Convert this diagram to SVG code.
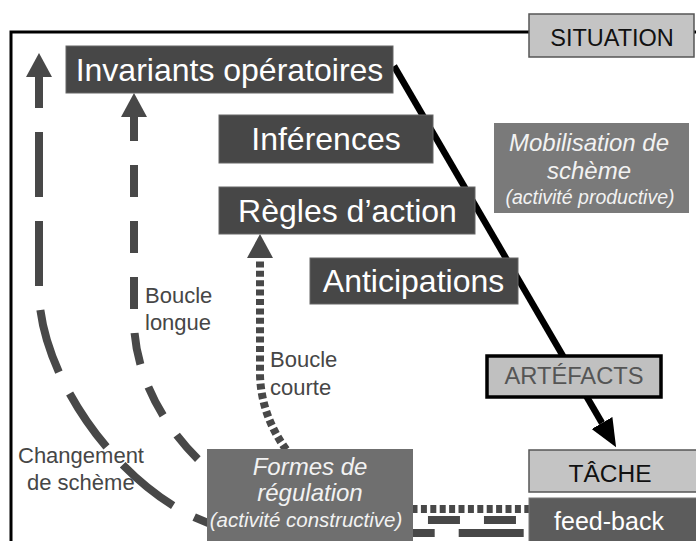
<svg xmlns="http://www.w3.org/2000/svg" width="696" height="541" viewBox="0 0 696 541">
  <defs>
    <style>
      text { font-family: "Liberation Sans", Arial, sans-serif; }
      .dark { fill: #474747; stroke: #666666; stroke-width: 1; }
      .big { font-size: 32px; fill: #ffffff; text-anchor: middle; }
      .light { fill: #c4c4c4; stroke: #555555; stroke-width: 1.5; }
      .lbl { font-size: 22px; fill: #464646; }
      .ital { font-style: italic; fill: #f2f2f2; text-anchor: middle; }
      .conn { fill: none; stroke: #484848; stroke-width: 8; }
    </style>
    <marker id="ah" viewBox="0 0 24 26" markerWidth="24" markerHeight="26" refX="0" refY="13" orient="auto-start-reverse" markerUnits="userSpaceOnUse">
      <path d="M0,0 L24,13 L0,26 Z" fill="#484848"/>
    </marker>
    <marker id="bh" viewBox="0 0 28 24" markerWidth="28" markerHeight="24" refX="0" refY="12" orient="auto" markerUnits="userSpaceOnUse">
      <path d="M0,0 L28,12 L0,24 Z" fill="#000000"/>
    </marker>
  </defs>

  <rect width="696" height="541" fill="#ffffff"/>

  <g id="frame">
    <path d="M11,541 V32 H529 M694,32 H696" fill="none" stroke="#000" stroke-width="3"/>
  </g>

  <g id="connectors">
    <path id="c-main" d="M394,66 L602,423" fill="none" stroke="#000" stroke-width="6.5" marker-end="url(#bh)"/>
    <path id="c-changement" class="conn" d="M39,77 V290 C39,390 150,533 260,533 H529" stroke-dasharray="65 24" stroke-dashoffset="34" marker-start="url(#ah)"/>
    <path id="c-longue" class="conn" d="M134,117 V320 C134,400 200,490 300,520 H529" stroke-dasharray="32 24" stroke-dashoffset="8" marker-start="url(#ah)"/>
    <path id="c-courte" class="conn" d="M260,258 V375 C262,450 330,509 400,509 H529" stroke-width="7" stroke-dasharray="6 3.4" stroke-dashoffset="6" marker-start="url(#ah)"/>
  </g>

  <g id="situation">
    <rect class="light" x="529" y="14" width="165" height="43"/>
    <text x="612" y="46" font-size="23.5" text-anchor="middle" fill="#111">SITUATION</text>
  </g>

  <g id="invariants">
    <rect class="dark" x="66" y="46" width="327" height="47"/>
    <text class="big" x="229.5" y="81">Invariants opératoires</text>
  </g>

  <g id="inferences">
    <rect class="dark" x="219" y="115" width="214" height="48"/>
    <text class="big" x="326" y="150">Inférences</text>
  </g>

  <g id="regles">
    <rect class="dark" x="219" y="187" width="256" height="47"/>
    <text class="big" x="347.5" y="222">Règles d’action</text>
  </g>

  <g id="anticipations">
    <rect class="dark" x="310" y="258" width="208" height="46"/>
    <text class="big" x="413.5" y="292">Anticipations</text>
  </g>

  <g id="mobilisation">
    <rect x="494" y="123" width="195" height="90" fill="#7a7a7a"/>
    <text class="ital" x="589" y="151" font-size="24">Mobilisation de</text>
    <text class="ital" x="589" y="179" font-size="24">schème</text>
    <text class="ital" x="590" y="204" font-size="19.5">(activité productive)</text>
  </g>

  <g id="artefacts">
    <rect x="487" y="356" width="174" height="41" fill="#c0c0c0" stroke="#000" stroke-width="3.5"/>
    <text x="574" y="384" font-size="23.7" text-anchor="middle" fill="#555">ARTÉFACTS</text>
  </g>

  <g id="tache">
    <rect class="light" x="529" y="450" width="168" height="42" fill="#c8c8c8"/>
    <text x="610" y="482" font-size="24.5" text-anchor="middle" fill="#111">TÂCHE</text>
  </g>

  <g id="feedback">
    <rect x="529" y="498" width="168" height="44" fill="#5c5c5c" stroke="#777" stroke-width="1"/>
    <text x="609" y="530" font-size="25" text-anchor="middle" fill="#fff">feed-back</text>
  </g>

  <g id="formes">
    <rect x="207" y="449" width="206" height="93" fill="#6f6f6f"/>
    <text class="ital" x="310" y="475" font-size="24">Formes de</text>
    <text class="ital" x="310" y="501" font-size="24">régulation</text>
    <text class="ital" x="306" y="527" font-size="20.5">(activité constructive)</text>
  </g>

  <g id="labels">
    <text class="lbl" x="145" y="303">Boucle</text>
    <text class="lbl" x="145" y="330">longue</text>
    <text class="lbl" x="270" y="367">Boucle</text>
    <text class="lbl" x="270" y="395">courte</text>
    <text class="lbl" x="18" y="463">Changement</text>
    <text class="lbl" x="27" y="490">de schème</text>
  </g>
</svg>
